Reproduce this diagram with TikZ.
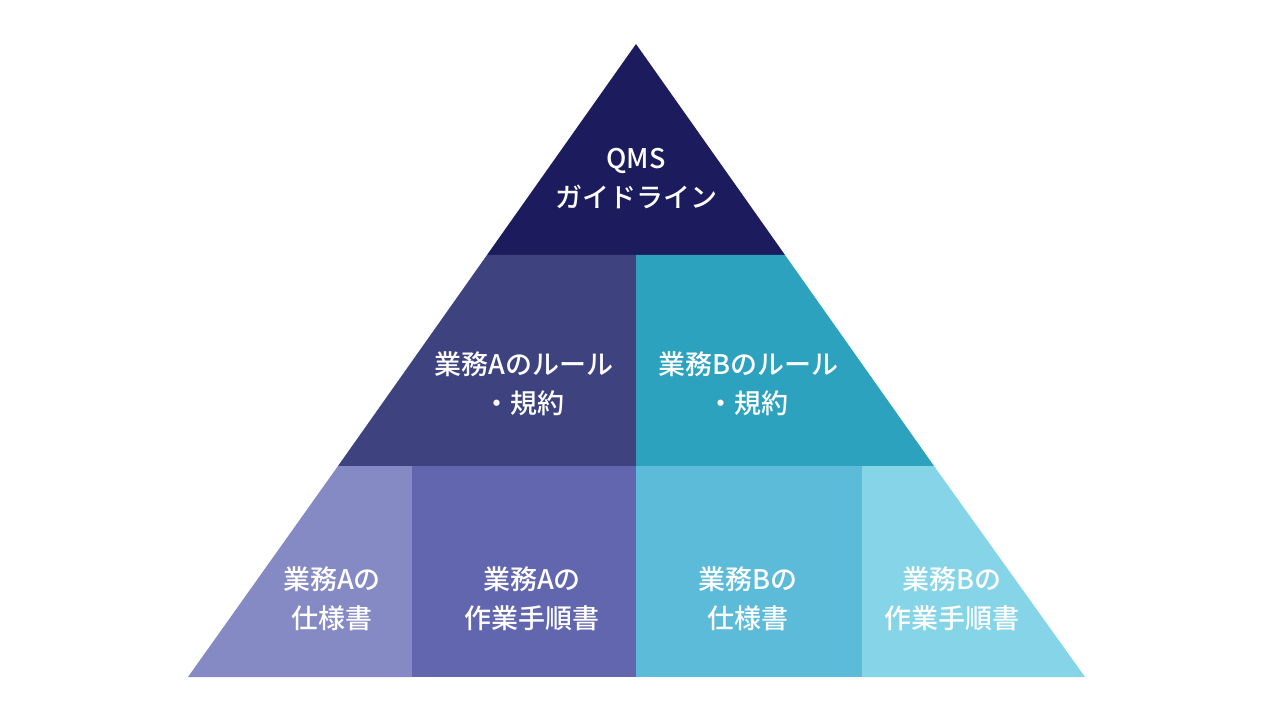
\documentclass[tikz,border=0pt]{standalone}
\usepackage{fontspec}
\setmainfont{Noto Sans CJK JP}
\newfontfamily\lblfont{Noto Sans CJK JP Medium}
\definecolor{cTop}{HTML}{1B1B5E}
\definecolor{cMA}{HTML}{3E4380}
\definecolor{cMB}{HTML}{2CA2BF}
\definecolor{cB1}{HTML}{8589C4}
\definecolor{cB2}{HTML}{6266AE}
\definecolor{cB3}{HTML}{5BBBD8}
\definecolor{cB4}{HTML}{86D4E8}
\tikzset{
  lbl/.style={text=white, font=\lblfont\fontsize{27}{39}\selectfont, align=center, inner sep=0pt}
}
\begin{document}
\begin{tikzpicture}[x=1pt,y=-1pt]
\useasboundingbox (0,0) rectangle (1280,722);
\fill[white] (0,0) rectangle (1280,722);
% corner coordinates
\coordinate (apex) at (636,44);
\coordinate (l1) at (487,255);
\coordinate (r1) at (785,255);
\coordinate (m1) at (636,255);
\coordinate (l2) at (338,466);
\coordinate (r2) at (934,466);
\coordinate (m2) at (636,466);
\coordinate (l3) at (188,677);
\coordinate (r3) at (1085,677);
\coordinate (m3) at (636,677);
% top
\fill[cTop] (apex) -- (r1) -- (l1) -- cycle;
% middle
\fill[cMA] (l1) -- (m1) -- (m2) -- (l2) -- cycle;
\fill[cMB] (m1) -- (r1) -- (r2) -- (m2) -- cycle;
% bottom
\fill[cB1] (l2) -- (412,466) -- (412,677) -- (l3) -- cycle;
\fill[cB2] (412,466) -- (m2) -- (m3) -- (412,677) -- cycle;
\fill[cB3] (m2) -- (862,466) -- (862,677) -- (m3) -- cycle;
\fill[cB4] (862,466) -- (r2) -- (r3) -- (862,677) -- cycle;
% labels
\node[lbl] (tTop) at (636,179) {QMS\\ガイドライン};
\node[lbl] (tMA) at (524,384) {業務Aのルール\\・規約};
\node[lbl] (tMB) at (748,384) {業務Bのルール\\・規約};
\node[lbl] (tB1) at (332,599) {業務Aの\\仕様書};
\node[lbl] (tB2) at (532,599) {業務Aの\\作業手順書};
\node[lbl] (tB3) at (748,599) {業務Bの\\仕様書};
\node[lbl] (tB4) at (952,599) {業務Bの\\作業手順書};
\end{tikzpicture}
\end{document}
